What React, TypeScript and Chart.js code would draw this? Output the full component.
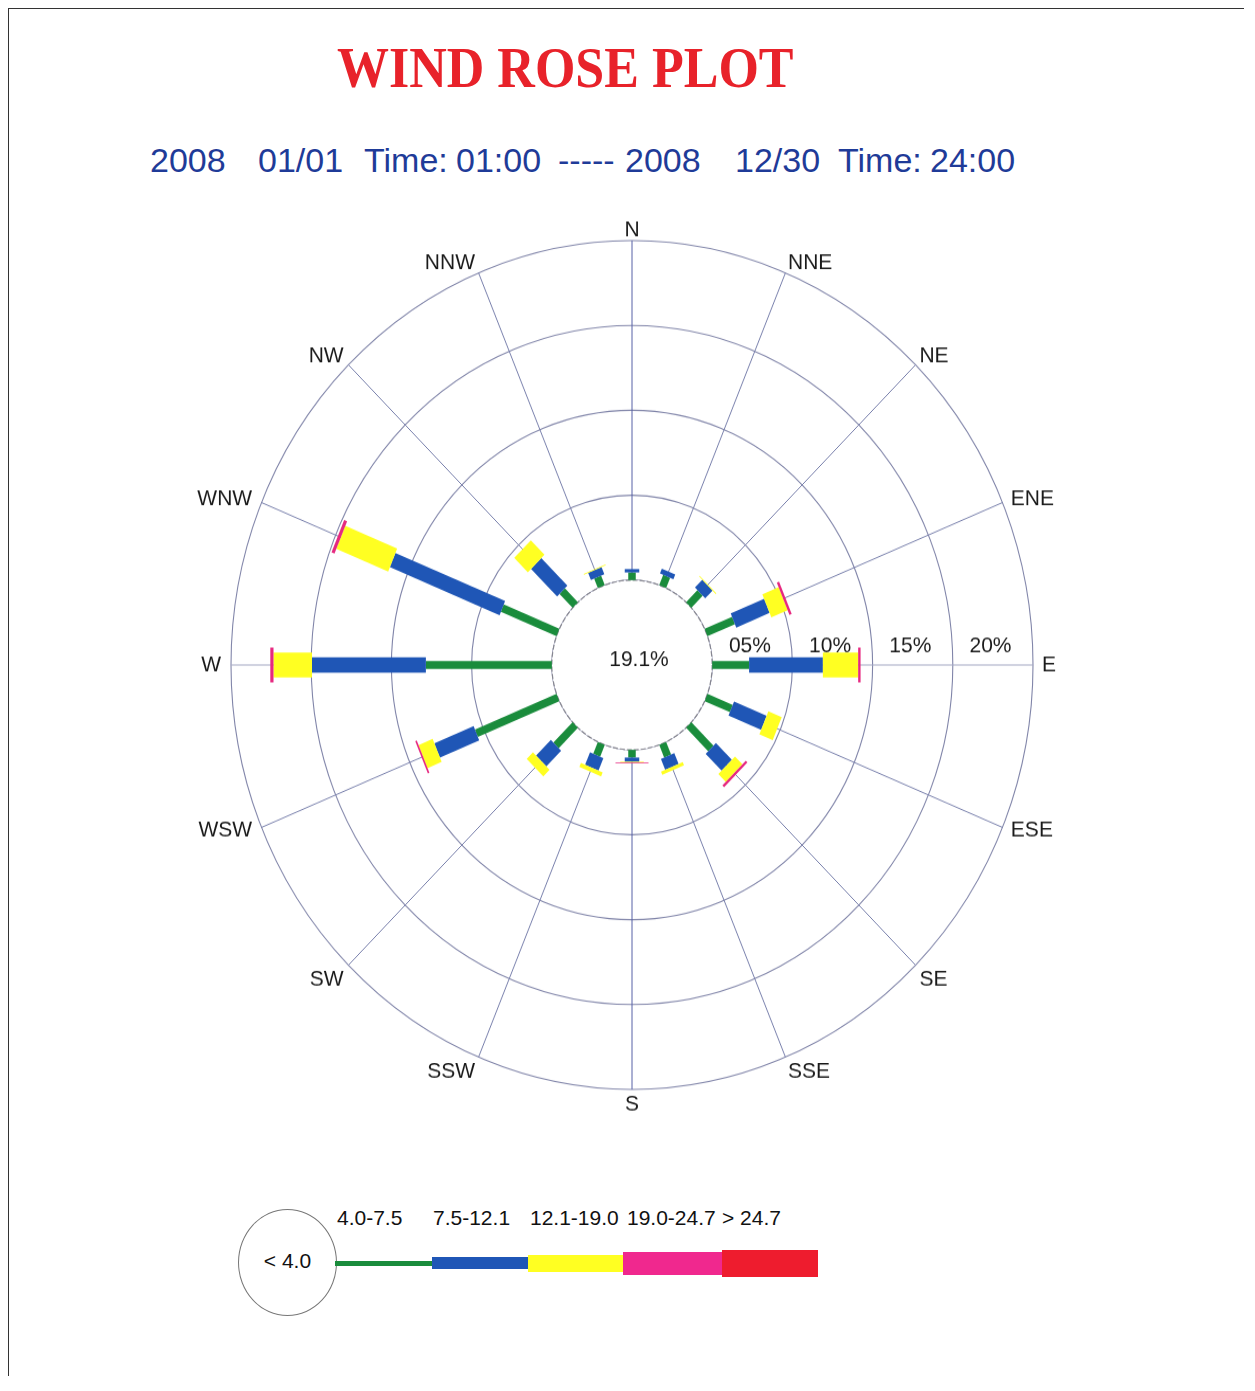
import React, { useEffect, useRef } from 'react';
import { Chart, registerables } from 'chart.js';

Chart.register(...registerables);

// ---------------- data ----------------
const TITLE = 'WIND ROSE PLOT';
const SUBTITLE_TOKENS = ['2008', '01/01', 'Time:', '01:00', '-----', '2008', '12/30', 'Time:', '24:00'];

const DIRECTIONS = ['N', 'NNE', 'NE', 'ENE', 'E', 'ESE', 'SE', 'SSE', 'S', 'SSW', 'SW', 'WSW', 'W', 'WNW', 'NW', 'NNW'];

const CALM_PERCENT = 19.1;
const CALM_CLASS = '< 4.0';
const SPEED_CLASSES = ['4.0-7.5', '7.5-12.1', '12.1-19.0', '19.0-24.7', '> 24.7'];

// frequency (%) per direction, N clockwise
const SPEED_4_7 = [0.45, 0.65, 1.0, 1.85, 2.3, 1.7, 1.95, 0.8, 0.45, 0.75, 1.7, 5.5, 7.85, 3.75, 1.15, 0.6];
const SPEED_7_12 = [0.2, 0.3, 0.65, 2.25, 4.6, 2.2, 1.4, 0.7, 0.25, 0.8, 1.3, 2.65, 7.1, 7.4, 2.3, 0.45];
const SPEED_12_19 = [0, 0, 0.05, 1.1, 2.2, 0.9, 0.65, 0.2, 0.05, 0.25, 0.55, 0.95, 2.4, 3.5, 1.2, 0.05];
const SPEED_19_25 = [0, 0, 0, 0.15, 0.15, 0, 0.15, 0, 0.05, 0, 0, 0.1, 0.2, 0.2, 0, 0];
const SPEED_25_UP = [0, 0, 0, 0, 0, 0, 0, 0, 0, 0, 0, 0, 0, 0, 0, 0];

const RING_VALUES = [5, 10, 15, 20];
const RING_LABELS = ['05%', '10%', '15%', '20%'];

// ---------------- styles ----------------
const SANS = '"Liberation Sans", Arial, Helvetica, sans-serif';
const CLASS_COLORS = ['#1a8c3c', '#1f56b6', '#ffff22', '#e6287f', '#ec1c2c'];
const LEGEND_COLORS = ['#1a8c3c', '#1f56b6', '#ffff22', '#f0288e', '#ee1c2e'];
const BAR_WIDTHS = [7.5, 14.5, 23.5, 33, 40];
const STRETCH_Y = 1.0585;

const LEGEND_BARS = [
  { left: 327, width: 97, height: 5 },
  { left: 424, width: 96, height: 12 },
  { left: 520, width: 95, height: 17 },
  { left: 615, width: 99, height: 23 },
  { left: 714, width: 96, height: 27 },
];
const LEGEND_LABEL_LEFTS = [329, 425, 522, 619, 714];
const SUBTITLE_LEFTS = [142, 250, 356, 448, 550, 617, 727, 830, 922];

const rosePlugin = {
  id: 'windRose',
  beforeDatasetsDraw(chart: any) {
    const s = chart.scales.r;
    const ctx = chart.ctx;
    const r0 = s.getDistanceFromCenterForValue(0);
    ctx.save();
    ctx.beginPath();
    ctx.arc(s.xCenter, s.yCenter, r0, 0, Math.PI * 2);
    ctx.fillStyle = '#ffffff';
    ctx.fill();
    ctx.setLineDash([5, 2]);
    ctx.lineWidth = 1.2;
    ctx.strokeStyle = '#85858f';
    ctx.stroke();
    ctx.restore();
  },
  afterDatasetsDraw(chart: any) {
    const s = chart.scales.r;
    const ctx = chart.ctx;
    const sets = chart.data.datasets;
    ctx.save();
    ctx.lineCap = 'butt';
    for (let i = 0; i < DIRECTIONS.length; i++) {
      let start = 0;
      sets.forEach((ds: any, k: number) => {
        const v = ds.data[i];
        if (v > 0) {
          const a = s.getPointPositionForValue(i, start);
          const b = s.getPointPositionForValue(i, start + v);
          ctx.beginPath();
          ctx.moveTo(a.x, a.y);
          ctx.lineTo(b.x, b.y);
          ctx.lineWidth = BAR_WIDTHS[k];
          ctx.strokeStyle = CLASS_COLORS[k];
          ctx.stroke();
        }
        start += v;
      });
    }
    ctx.restore();
  },
  afterDraw(chart: any) {
    const s = chart.scales.r;
    const ctx = chart.ctx;
    ctx.save();
    // direction labels
    ctx.font = `21px ${SANS}`;
    ctx.fillStyle = '#1a1a1a';
    const n = DIRECTIONS.length;
    DIRECTIONS.forEach((lab, i) => {
      const ang = (i * 2 * Math.PI) / n;
      const sn = Math.sin(ang);
      const cs = Math.cos(ang);
      let dist: number;
      let base: CanvasTextBaseline;
      if (cs > 0.5) {
        dist = s.drawingArea + 4;
        base = 'alphabetic';
      } else if (cs < -0.5) {
        dist = s.drawingArea + 4;
        base = 'top';
      } else {
        dist = s.drawingArea + 8;
        base = 'middle';
      }
      const p = s.getPointPosition(i, dist);
      ctx.textAlign = Math.abs(sn) < 0.01 ? 'center' : sn > 0 ? 'left' : 'right';
      ctx.textBaseline = base;
      const dx = Math.abs(sn) < 0.01 ? 0 : sn > 0 ? 1 : -2;
      ctx.fillText(lab, p.x + dx, p.y);
    });
    // ring labels along east axis
    const east = DIRECTIONS.indexOf('E');
    ctx.font = `21px ${SANS}`;
    ctx.textAlign = 'center';
    ctx.textBaseline = 'middle';
    RING_VALUES.forEach((v, j) => {
      const p = s.getPointPositionForValue(east, v - 2.65);
      ctx.fillText(RING_LABELS[j], p.x, p.y - 17.5);
    });
    // calm
    ctx.fillText(`${CALM_PERCENT.toFixed(1)}%`, s.xCenter + 7, s.yCenter - 5);
    ctx.restore();
  },
};

export default function App() {
  const ref = useRef<HTMLCanvasElement>(null);

  useEffect(() => {
    const canvas = ref.current;
    if (!canvas) return;
    const series = [SPEED_4_7, SPEED_7_12, SPEED_12_19, SPEED_19_25, SPEED_25_UP];
    const chart = new Chart(canvas, {
      type: 'radar',
      data: {
        labels: DIRECTIONS,
        datasets: series.map((d, k) => ({
          label: SPEED_CLASSES[k],
          data: d,
          showLine: false,
          fill: false,
          borderWidth: 0,
          borderColor: 'transparent',
          backgroundColor: 'transparent',
          pointRadius: 0,
          pointHoverRadius: 0,
        })),
      },
      options: {
        responsive: false,
        maintainAspectRatio: false,
        animation: false,
        events: [],
        layout: { padding: 60 },
        plugins: {
          legend: { display: false },
          tooltip: { enabled: false },
          title: { display: false },
        },
        scales: {
          r: {
            min: -5,
            max: 20,
            ticks: { display: false, stepSize: 5 },
            pointLabels: { display: false },
            grid: { circular: true, color: '#8185a9', lineWidth: 1.1 },
            angleLines: {
              display: true,
              lineWidth: 1,
              color: (c: any) =>
                c.index % 8 === 0 ? '#5660a6' : c.index % 4 === 0 ? '#a3a7c2' : '#7980ac',
            },
          },
        },
      } as any,
      plugins: [rosePlugin as any],
    });
    return () => chart.destroy();
  }, []);

  return (
    <div style={{ position: 'relative', height: 1370, fontFamily: SANS }}>
      <div style={{ position: 'absolute', left: 0, top: 0, width: 1236, height: 1368, borderLeft: '1px solid #333', borderTop: '1px solid #333', boxSizing: 'border-box' }} />
      <div
        style={{
          position: 'absolute',
          left: 329,
          top: 32,
          font: 'bold 52px "Liberation Serif", "Times New Roman", serif',
          lineHeight: '52px',
          color: '#e8222a',
          whiteSpace: 'nowrap',
          transform: 'scaleY(1.1)',
          transformOrigin: '0 0',
        }}
      >
        {TITLE}
      </div>
      {SUBTITLE_TOKENS.map((t, i) => (
        <div
          key={i}
          style={{
            position: 'absolute',
            left: SUBTITLE_LEFTS[i],
            top: 135,
            fontSize: 34,
            lineHeight: '34px',
            color: '#1f3b98',
            whiteSpace: 'nowrap',
          }}
        >
          {t}
        </div>
      ))}
      <div
        style={{
          position: 'absolute',
          left: 163,
          top: 169,
          width: 923,
          height: 923,
          transform: `scaleY(${STRETCH_Y})`,
          transformOrigin: '0 0',
        }}
      >
        <canvas ref={ref} width={923} height={923} style={{ display: 'block', width: 923, height: 923 }} />
      </div>
      {/* legend */}
      <div
        style={{
          position: 'absolute',
          left: 230,
          top: 1201,
          width: 99,
          height: 107,
          boxSizing: 'border-box',
          border: '1px solid #777',
          borderRadius: '50%',
        }}
      />
      <div
        style={{
          position: 'absolute',
          left: 230,
          top: 1242,
          width: 99,
          textAlign: 'center',
          fontSize: 21,
          lineHeight: '21px',
          color: '#111',
        }}
      >
        {CALM_CLASS}
      </div>
      {SPEED_CLASSES.map((c, k) => (
        <React.Fragment key={c}>
          <div
            style={{
              position: 'absolute',
              left: LEGEND_LABEL_LEFTS[k],
              top: 1199,
              fontSize: 21,
              lineHeight: '21px',
              color: '#111',
              whiteSpace: 'nowrap',
            }}
          >
            {c}
          </div>
          <div
            style={{
              position: 'absolute',
              left: LEGEND_BARS[k].left,
              top: 1255 - LEGEND_BARS[k].height / 2,
              width: LEGEND_BARS[k].width,
              height: LEGEND_BARS[k].height,
              background: LEGEND_COLORS[k],
            }}
          />
        </React.Fragment>
      ))}
    </div>
  );
}
